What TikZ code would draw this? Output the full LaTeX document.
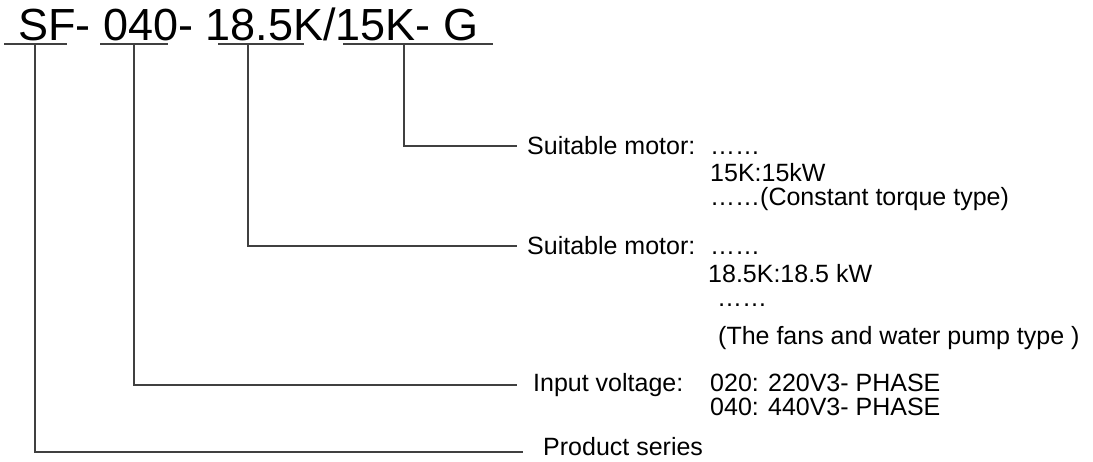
\documentclass[tikz,border=0pt]{standalone}
\usepackage{fontspec}
\setmainfont{Liberation Sans}
\usetikzlibrary{positioning}

\begin{document}
\begin{tikzpicture}[x=1pt, y=-1pt, font=\fontsize{25}{29}\selectfont,
  ttl/.style={anchor=base west, inner sep=0pt, font=\fontsize{45}{54}\selectfont},
  lbl/.style={anchor=west, inner ysep=0pt, inner xsep=#1},
  lbl/.default=10pt,
  val/.style={anchor=base west, inner sep=0pt},
  ln/.style={line width=1.1pt, black!75}]
\useasboundingbox (0,0) rectangle (1093,462);

% ---- model code ----
\node[ttl] (code) at (18,41) {SF- 040- 18.5K/15K- G};
\coordinate (uSF)  at (35,44);
\coordinate (u040) at (134,44);
\coordinate (u185) at (248,44);
\coordinate (u15K) at (404,44);
\draw[ln] (4,44)   -- (67,44);
\draw[ln] (100,44) -- (168,44);
\draw[ln] (218,44) -- (304,44);
\draw[ln] (343,44) -- (493,44);

% ---- labels ----
\node[lbl] (motG) at (517,146) {Suitable motor:};
\node[val] (vG1) at (710,0 |- motG.base) {……};
\node[val] (vG2) at (710,182) {15K:15kW};
\node[val] (vG3) at (710,206) {……(Constant torque type)};

\node[lbl] (motK) at (517,246) {Suitable motor:};
\node[val] (vK1) at (710,0 |- motK.base) {……};
\node[val] (vK2) at (708,283) {18.5K:18.5 kW};
\node[val] (vK3) at (717,307) {……};
\node[val] (vK4) at (718,345) {(The fans and water pump type )};

\node[lbl=16pt] (volt) at (517,385) {Input voltage:};
\node[val] (vV1) at (710,0 |- volt.base) {020: 220V3- PHASE};
\node[val] (vV2) at (710,416) {040: 440V3- PHASE};

\coordinate (serEnd) at (523,452);
\node[val] (ser) at (543,455) {Product series};

% ---- leader lines ----
\draw[ln] (u15K) |- (motG.west);
\draw[ln] (u185) |- (motK.west);
\draw[ln] (u040) |- (volt.west);
\draw[ln] (uSF)  |- (serEnd);
\end{tikzpicture}
\end{document}
